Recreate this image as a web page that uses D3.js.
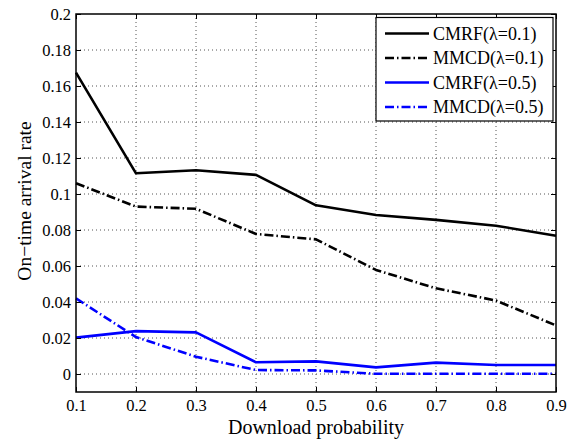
<!DOCTYPE html>
<html><head><meta charset="utf-8">
<script src="https://cdn.jsdelivr.net/npm/d3@7"></script>
<style>
body{margin:0;background:#fff;}
svg{display:block;font-family:"Liberation Serif","Times New Roman",serif;}
</style></head><body>
<svg id="c" width="578" height="440"></svg>
<script>
const xValues = [0.1,0.2,0.3,0.4,0.5,0.6,0.7,0.8,0.9];
const cmrf01 = [0.1674,0.1115,0.1132,0.1106,0.0937,0.0883,0.0856,0.0824,0.0768];
const mmcd01 = [0.1060,0.0930,0.0918,0.0778,0.0748,0.0578,0.0476,0.0408,0.0270];
const cmrf05 = [0.0202,0.0238,0.0231,0.0065,0.0070,0.0037,0.0063,0.0050,0.0050];
const mmcd05 = [0.0420,0.0205,0.0096,0.0022,0.0020,0.0001,0.0001,0.0001,0.0001];
const seriesNames = ["CMRF(\u03bb=0.1)","MMCD(\u03bb=0.1)","CMRF(\u03bb=0.5)","MMCD(\u03bb=0.5)"];
const xTicks = [0.1,0.2,0.3,0.4,0.5,0.6,0.7,0.8,0.9];
const yTicks = [0,0.02,0.04,0.06,0.08,0.1,0.12,0.14,0.16,0.18,0.2];
const xLabel = "Download probability";
const yLabel = "On\u2212time arrival rate";

const series = [
  {name:seriesNames[0], values:cmrf01, color:"#000", dash:null},
  {name:seriesNames[1], values:mmcd01, color:"#000", dash:"9,3,1.5,3"},
  {name:seriesNames[2], values:cmrf05, color:"#0000ff", dash:null},
  {name:seriesNames[3], values:mmcd05, color:"#0000ff", dash:"9,3,1.5,3"}
];

const L=76,R=556,T=14,B=392;
const svg=d3.select("#c");
const x=d3.scaleLinear().domain([0.1,0.9]).range([L,R]);
const y=d3.scaleLinear().domain([-0.01,0.2]).range([B,T]);

// grid
const g=svg.append("g");
g.selectAll("line.vx").data(xTicks.slice(1,-1)).enter().append("line")
 .attr("x1",d=>x(d)).attr("x2",d=>x(d)).attr("y1",T).attr("y2",B)
 .attr("stroke","#555").attr("stroke-width",1).attr("stroke-dasharray","1,3");
g.selectAll("line.hy").data(yTicks.slice(0,-1)).enter().append("line")
 .attr("x1",L).attr("x2",R).attr("y1",d=>y(d)).attr("y2",d=>y(d))
 .attr("stroke","#555").attr("stroke-width",1).attr("stroke-dasharray","1,3");

// lines
const line=d3.line().x((d,i)=>x(xValues[i])).y(d=>y(d));
series.forEach(s=>{
  svg.append("path").attr("d",line(s.values)).attr("fill","none")
   .attr("stroke",s.color).attr("stroke-width",2.6)
   .attr("stroke-dasharray",s.dash).attr("stroke-linejoin","round");
});

// axes
const fmt=d=>d3.format("")(+d.toFixed(2));
const axB=svg.append("g").attr("transform",`translate(0,${B})`)
 .call(d3.axisBottom(x).tickValues(xTicks).tickSizeInner(-5).tickSizeOuter(0).tickPadding(7.5).tickFormat(fmt));
const axT=svg.append("g").attr("transform",`translate(0,${T})`)
 .call(d3.axisTop(x).tickValues(xTicks).tickSizeInner(-5).tickSizeOuter(0).tickFormat(""));
const axL=svg.append("g").attr("transform",`translate(${L},0)`)
 .call(d3.axisLeft(y).tickValues(yTicks).tickSizeInner(-5).tickSizeOuter(0).tickPadding(5).tickFormat(fmt));
const axR=svg.append("g").attr("transform",`translate(${R},0)`)
 .call(d3.axisRight(y).tickValues(yTicks).tickSizeInner(-5).tickSizeOuter(0).tickFormat(""));
[axB,axT,axL,axR].forEach(a=>{
  a.select(".domain").remove();
  a.selectAll("line").attr("stroke","#000");
  a.selectAll("text").attr("font-family","Liberation Serif").attr("font-size",16.5).attr("fill","#000");
});
svg.append("rect").attr("x",L).attr("y",T).attr("width",R-L).attr("height",B-T)
 .attr("fill","none").attr("stroke","#000").attr("stroke-width",1.5);

// labels
svg.append("text").attr("x",(L+R)/2).attr("y",433.5).attr("text-anchor","middle")
 .attr("font-size",20).text(xLabel);
svg.append("text").attr("transform",`translate(31,${201}) rotate(-90)`).attr("text-anchor","middle")
 .attr("font-size",19.5).text(yLabel);

// legend
const lg=svg.append("g");
lg.append("rect").attr("x",376).attr("y",17.5).attr("width",177).attr("height",103.5)
 .attr("fill","#fff").attr("stroke","#000").attr("stroke-width",1.2);
series.forEach((s,i)=>{
  const yy=33.5+i*24.5;
  lg.append("line").attr("x1",385).attr("x2",429).attr("y1",yy).attr("y2",yy)
   .attr("stroke",s.color).attr("stroke-width",2.6).attr("stroke-dasharray",s.dash);
  lg.append("text").attr("x",433).attr("y",yy+6).attr("font-size",18).text(s.name);
});
</script>
</body></html>
